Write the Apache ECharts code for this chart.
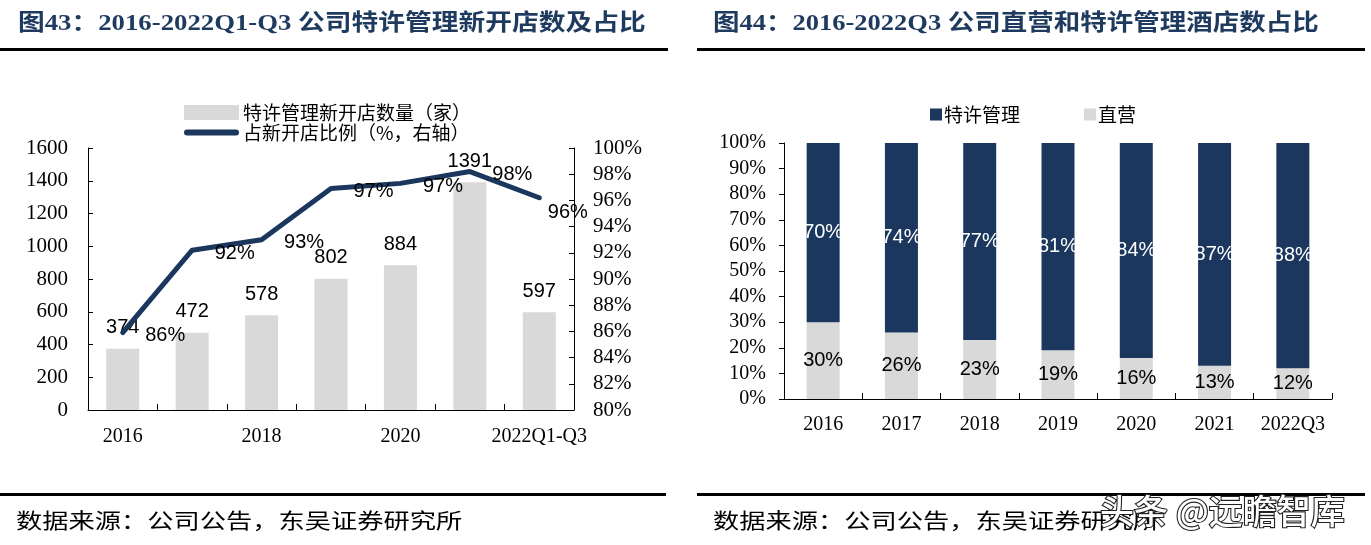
<!DOCTYPE html>
<html>
<head>
<meta charset="utf-8">
<script src="https://cdn.jsdelivr.net/npm/echarts@6/dist/echarts.min.js"></script>
<style>
html,body{margin:0;padding:0;background:#fff;}
#main{width:1371px;height:545px;}
</style>
</head>
<body>
<div id="main"></div>
<script>
// ---- Data (left chart) ----
const years = ['2016', '2017', '2018', '2019', '2020', '2021', '2022Q1-Q3'];
const newFranchiseStores = [374, 472, 578, 802, 884, 1391, 597];
const franchiseRatio = [85.9, 92.2, 93.0, 96.9, 97.3, 98.2, 96.2];
const leftTicks = [0, 200, 400, 600, 800, 1000, 1200, 1400, 1600];
const rightTicks = [80, 82, 84, 86, 88, 90, 92, 94, 96, 98, 100];

// ---- Data (right chart) ----
const years2 = ['2016', '2017', '2018', '2019', '2020', '2021', '2022Q3'];
const franchiseShare = [70, 74, 77, 81, 84, 87, 88];
const directShare = [30, 26, 23, 19, 16, 13, 12];

// ---- Texts ----
const titleLeft = '图43：2016-2022Q1-Q3 公司特许管理新开店数及占比';
const titleRight = '图44：2016-2022Q3 公司直营和特许管理酒店数占比';
const sourceText = '数据来源：公司公告，东吴证券研究所';
const watermark = '头条 @远瞻智库';

const NAVY = '#1B375D';
const GREY = '#D9D9D9';
const SERIF = '"Liberation Serif","Times New Roman",serif';
const SANS = '"Liberation Sans",Arial,sans-serif';
const CJK = '"Noto Sans CJK SC","Liberation Serif",sans-serif';
const TITLE_COLOR = '#1E3A5F';

const chart = echarts.init(document.getElementById('main'), null, {renderer: 'canvas'});

const axisLineStyle = {show: true, lineStyle: {color: '#000', width: 1}};

const option = {
  backgroundColor: '#fff',
  animation: false,
  legend: [
    {
      left: 179, top: 98, orient: 'horizontal',
      itemWidth: 55, itemHeight: 15, itemGap: 10,
      textStyle: {fontFamily: CJK, fontSize: 19, color: '#000', padding: [0, 0, 0, -1]},
      data: [{name: '特许管理新开店数量（家）', icon: 'rect'}]
    },
    {
      left: 179, top: 118, orient: 'horizontal',
      itemWidth: 55, itemHeight: 15, itemGap: 10,
      textStyle: {fontFamily: CJK, fontSize: 19, color: '#000', padding: [0, 0, 0, -1]},
      data: [{name: '占新开店比例（%，右轴）', icon: 'path://M3,0L52,0A3,3,0,0,1,52,6L3,6A3,3,0,0,1,3,0Z'}]
    },
    {
      left: 925, top: 100, orient: 'horizontal',
      itemWidth: 12, itemHeight: 12, itemGap: 64,
      textStyle: {fontFamily: CJK, fontSize: 19, color: '#000', padding: [0, 0, 0, -3]},
      data: [{name: '特许管理', icon: 'rect'}, {name: '直营', icon: 'rect'}]
    }
  ],
  grid: [
    {left: 88, right: 797, top: 148, bottom: 135, containLabel: false},
    {left: 784, right: 39, top: 143, bottom: 146, containLabel: false}
  ],
  xAxis: [
    {
      type: 'category', gridIndex: 0, data: years,
      axisLine: axisLineStyle,
      axisTick: {show: true, inside: true, length: 6, interval: 0, lineStyle: {color: '#000'}},
      axisLabel: {interval: 1, margin: 17, fontFamily: SERIF, fontSize: 20, color: '#000'},
      splitLine: {show: false}
    },
    {
      type: 'category', gridIndex: 1, data: years2,
      axisLine: axisLineStyle,
      axisTick: {show: true, inside: true, length: 6, interval: 0, lineStyle: {color: '#000'}},
      axisLabel: {interval: 0, margin: 16, fontFamily: SERIF, fontSize: 20, color: '#000'},
      splitLine: {show: false}
    }
  ],
  yAxis: [
    {
      type: 'value', gridIndex: 0,
      min: leftTicks[0], max: leftTicks[leftTicks.length - 1], interval: 200,
      axisLine: axisLineStyle,
      axisTick: {show: true, inside: true, length: 5, lineStyle: {color: '#000'}},
      axisLabel: {margin: 20, fontFamily: SERIF, fontSize: 21, color: '#000', formatter: v => String(v)},
      splitLine: {show: false}
    },
    {
      type: 'value', gridIndex: 0, position: 'right',
      min: rightTicks[0], max: rightTicks[rightTicks.length - 1], interval: 2,
      axisLine: axisLineStyle,
      axisTick: {show: true, inside: true, length: 5, lineStyle: {color: '#000'}},
      axisLabel: {margin: 19, fontFamily: SERIF, fontSize: 21, color: '#000', formatter: '{value}%'},
      splitLine: {show: false}
    },
    {
      type: 'value', gridIndex: 1,
      min: 0, max: 100, interval: 10,
      axisLine: axisLineStyle,
      axisTick: {show: true, inside: false, length: 5, lineStyle: {color: '#000'}},
      axisLabel: {margin: 18, fontFamily: SERIF, fontSize: 20, color: '#000', formatter: '{value}%'},
      splitLine: {show: false}
    }
  ],
  series: [
    {
      name: '特许管理新开店数量（家）', type: 'bar', xAxisIndex: 0, yAxisIndex: 0,
      data: newFranchiseStores, barWidth: 33,
      itemStyle: {color: GREY},
      label: {show: true, position: 'top', distance: 11, fontFamily: SANS, fontSize: 20, color: '#000'}
    },
    {
      name: '占新开店比例（%，右轴）', type: 'line', xAxisIndex: 0, yAxisIndex: 1,
      data: franchiseRatio.map((v, i) => i === franchiseRatio.length - 1
        ? {value: v, label: {distance: 8, offset: [0, 15]}}
        : v),
      symbol: 'circle', symbolSize: 1, showSymbol: true,
      lineStyle: {color: NAVY, width: 5, cap: 'round', join: 'round'},
      itemStyle: {color: NAVY},
      label: {
        show: true, position: 'right', distance: 22, offset: [0, 3],
        fontFamily: SANS, fontSize: 20, color: '#000',
        formatter: p => Math.round(p.value) + '%'
      },
      z: 5
    },
    {
      name: '直营', type: 'bar', xAxisIndex: 1, yAxisIndex: 2, stack: 'share',
      data: directShare, barWidth: 33,
      itemStyle: {color: GREY},
      label: {show: true, position: 'inside', fontFamily: SANS, fontSize: 20, color: '#000', formatter: '{c}%'}
    },
    {
      name: '特许管理', type: 'bar', xAxisIndex: 1, yAxisIndex: 2, stack: 'share',
      data: franchiseShare, barWidth: 33,
      itemStyle: {color: NAVY},
      label: {show: true, position: 'inside', fontFamily: SANS, fontSize: 20, color: '#fff', formatter: '{c}%'}
    }
  ],
  graphic: [
    {type: 'text', x: 18, y: 24, scaleX: 1.163,
      style: {text: titleLeft, font: 'bold 23px ' + SERIF + ',"Noto Sans CJK SC"', fill: TITLE_COLOR, verticalAlign: 'middle'}},
    {type: 'text', x: 713, y: 24, scaleX: 1.152,
      style: {text: titleRight, font: 'bold 23px ' + SERIF + ',"Noto Sans CJK SC"', fill: TITLE_COLOR, verticalAlign: 'middle'}},
    {type: 'rect', shape: {x: 0, y: 48, width: 668, height: 3}, style: {fill: '#000'}},
    {type: 'rect', shape: {x: 697, y: 48, width: 668, height: 3}, style: {fill: '#000'}},
    {type: 'rect', shape: {x: 0, y: 493, width: 666, height: 3}, style: {fill: '#000'}},
    {type: 'rect', shape: {x: 697, y: 493, width: 668, height: 3}, style: {fill: '#000'}},
    {type: 'text', x: 16, y: 520, scaleX: 1.25,
      style: {text: sourceText, font: '21px "Noto Sans CJK SC"', fill: '#000', verticalAlign: 'middle'}},
    {type: 'text', x: 713, y: 520, scaleX: 1.25,
      style: {text: sourceText, font: '21px "Noto Sans CJK SC"', fill: '#000', verticalAlign: 'middle'}},
    {type: 'text', x: 1100, y: 511, z: 100,
      style: {text: watermark, font: '500 34px "Noto Sans CJK SC"', fill: '#fff', stroke: '#222', lineWidth: 2.2,
        shadowColor: 'rgba(0,0,0,0.5)', shadowBlur: 2, shadowOffsetX: 1, shadowOffsetY: 1, verticalAlign: 'middle'}}
  ]
};

chart.setOption(option);
</script>
</body>
</html>
